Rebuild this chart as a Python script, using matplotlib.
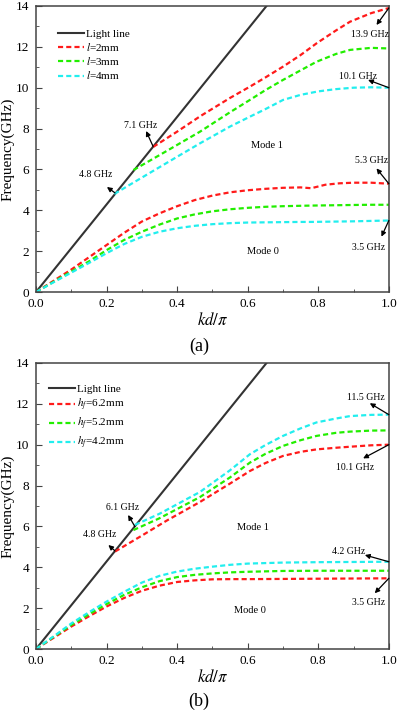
import numpy as np
import matplotlib
matplotlib.use('Agg')
import matplotlib.pyplot as plt

plt.rcParams['font.family'] = ['Liberation Serif', 'DejaVu Serif']
plt.rcParams['mathtext.fontset'] = 'stix'

# ---------------- data: panel (a) ----------------
light_kd = [0.0, 0.7]
light_f = [0.0, 15.0]

a_kd0 = [0, 0.05, 0.1, 0.15, 0.2, 0.25, 0.3, 0.35, 0.4, 0.45, 0.5, 0.55,
         0.6, 0.65, 0.7, 0.75, 0.78, 0.82, 0.86, 0.9, 0.95, 1.0]
a_red0 = [0, 0.55, 1.1, 1.7, 2.3, 2.9, 3.45, 3.85, 4.2, 4.5, 4.72, 4.88,
          4.98, 5.05, 5.1, 5.12, 5.08, 5.25, 5.32, 5.35, 5.35, 5.3]
a_green0 = [0, 0.5, 1.0, 1.5, 2.05, 2.55, 2.95, 3.3, 3.6, 3.8, 3.95, 4.05,
            4.12, 4.17, 4.2, 4.22, 4.23, 4.24, 4.25, 4.26, 4.27, 4.27]
a_cyan0 = [0, 0.48, 0.95, 1.42, 1.9, 2.35, 2.7, 2.95, 3.12, 3.24, 3.32, 3.37,
           3.4, 3.41, 3.42, 3.43, 3.43, 3.44, 3.45, 3.46, 3.48, 3.5]

a_red1_kd = [0.332, 0.4, 0.465, 0.55, 0.606, 0.65, 0.70, 0.75, 0.795, 0.85, 0.89, 0.95, 1.0]
a_red1 = [7.1, 7.85, 8.6, 9.5, 10.05, 10.5, 11.03, 11.6, 12.17, 12.8, 13.23, 13.65, 13.9]
a_green1_kd = [0.276, 0.35, 0.465, 0.55, 0.606, 0.65, 0.70, 0.75, 0.795, 0.85, 0.89, 0.95, 1.0]
a_green1 = [5.97, 6.7, 7.85, 8.8, 9.4, 9.88, 10.38, 10.85, 11.27, 11.65, 11.85, 11.95, 11.92]
a_cyan1_kd = [0.222, 0.3, 0.4, 0.465, 0.55, 0.606, 0.65, 0.70, 0.75, 0.8, 0.85, 0.9, 0.95, 1.0]
a_cyan1 = [4.8, 5.6, 6.62, 7.28, 8.1, 8.58, 8.95, 9.4, 9.65, 9.82, 9.93, 10.0, 10.02, 10.0]

a_labels = ['$l$=2mm', '$l$=3mm', '$l$=4mm']

# ---------------- data: panel (b) ----------------
b_kd0 = [0, 0.05, 0.1, 0.15, 0.2, 0.25, 0.3, 0.35, 0.4, 0.45, 0.5, 0.55,
         0.6, 0.7, 0.8, 0.9, 1.0]
b_red0 = [0, 0.55, 1.1, 1.6, 2.08, 2.5, 2.85, 3.1, 3.28, 3.36, 3.41, 3.42,
          3.42, 3.43, 3.44, 3.45, 3.46]
b_green0 = [0, 0.6, 1.18, 1.7, 2.2, 2.65, 3.02, 3.32, 3.52, 3.63, 3.7, 3.75,
            3.78, 3.82, 3.83, 3.83, 3.83]
b_cyan0 = [0, 0.62, 1.25, 1.8, 2.32, 2.8, 3.25, 3.58, 3.79, 3.93, 4.03, 4.12,
           4.18, 4.23, 4.25, 4.26, 4.27]

b_red1_kd = [0.224, 0.3, 0.37, 0.465, 0.55, 0.606, 0.65, 0.70, 0.75, 0.795, 0.85, 0.89, 0.95, 1.0]
b_red1 = [4.77, 5.55, 6.28, 7.2, 8.1, 8.71, 9.1, 9.45, 9.65, 9.77, 9.85, 9.9, 9.97, 10.0]
b_green1_kd = [0.276, 0.35, 0.465, 0.55, 0.606, 0.65, 0.70, 0.75, 0.795, 0.85, 0.89, 0.95, 1.0]
b_green1 = [5.82, 6.4, 7.44, 8.4, 9.12, 9.55, 9.94, 10.22, 10.43, 10.58, 10.64, 10.69, 10.7]
b_cyan1_kd = [0.28, 0.35, 0.465, 0.55, 0.606, 0.65, 0.70, 0.75, 0.795, 0.85, 0.89, 0.95, 1.0]
b_cyan1 = [6.07, 6.62, 7.69, 8.75, 9.53, 9.98, 10.43, 10.8, 11.09, 11.28, 11.4, 11.46, 11.47]

b_labels = ['$h_f$=6.2mm', '$h_f$=5.2mm', '$h_f$=4.2mm']

# annotations: (text, text_pos, arrow_tail, arrow_head)
a_notes = [
    ('4.8 GHz', (0.17, 5.73), (0.224, 4.85), (0.201, 5.14)),
    ('7.1 GHz', (0.297, 8.17), (0.332, 7.12), (0.312, 7.88)),
    ('13.9 GHz', (0.946, 12.58), (1.0, 13.9), (0.965, 13.07)),
    ('10.1 GHz', (0.912, 10.57), (1.0, 10.0), (0.941, 10.38)),
    ('5.3 GHz', (0.952, 6.46), (1.0, 5.3), (0.965, 6.05)),
    ('3.5 GHz', (0.943, 2.2), (1.0, 3.5), (0.979, 2.71)),
]
b_notes = [
    ('4.8 GHz', (0.181, 5.58), (0.224, 4.8), (0.205, 5.09)),
    ('6.1 GHz', (0.244, 6.95), (0.28, 6.0), (0.261, 6.56)),
    ('11.5 GHz', (0.935, 12.33), (1.0, 11.47), (0.946, 12.03)),
    ('10.1 GHz', (0.904, 8.86), (1.0, 10.0), (0.927, 9.33)),
    ('4.2 GHz', (0.887, 4.75), (1.0, 4.27), (0.932, 4.6)),
    ('3.5 GHz', (0.943, 2.3), (1.0, 3.46), (0.96, 2.73)),
]

colors = ['#ff1a1a', '#22ee00', '#22eeee']
dash = (2.3, 1.4)


def draw_panel(ax, kd0, m0, m1, labels, notes, modes, leg_anchor, leg_space):
    ax.plot(light_kd, light_f, color='#333333', lw=1.5, label='Light line')
    for i in range(3):
        ax.plot(m1[i][0], m1[i][1], color=colors[i], lw=1.6, dashes=dash, label=labels[i])
        ax.plot(kd0, m0[i], color=colors[i], lw=1.6, dashes=dash)
    ax.set_xlim(0, 1)
    ax.set_ylim(0, 14)
    ax.set_xticks(np.arange(0, 1.01, 0.2))
    ax.set_xticks(np.arange(0.1, 1.0, 0.2), minor=True)
    ax.set_yticks(np.arange(0, 15, 2))
    ax.set_yticks(np.arange(1, 14, 2), minor=True)
    ax.set_xticklabels(['0.0', '0.2', '0.4', '0.6', '0.8', '1.0'])
    ax.tick_params(which='both', direction='in', top=False, right=False,
                   labelsize=9.5, color='#444444')
    ax.tick_params(axis='x', pad=4)
    ax.tick_params(axis='y', pad=5)
    ax.tick_params(which='major', length=4)
    ax.tick_params(which='minor', length=2.5)
    for s in ax.spines.values():
        s.set_color('#444444')
        s.set_linewidth(1.1)
    ax.set_xlabel(r'$kd/\pi$', fontsize=12, labelpad=2)
    ax.set_ylabel('Frequency(GHz)', fontsize=11, labelpad=1)
    for txt, tpos, tail, head in notes:
        ax.annotate('', xy=head, xytext=tail,
                    arrowprops=dict(arrowstyle='-|>', color='black', lw=0.9,
                                    mutation_scale=7, shrinkA=0, shrinkB=0))
        ax.text(tpos[0], tpos[1], txt, fontsize=7, ha='center', va='center')
    ax.text(modes[0][0], modes[0][1], 'Mode 1', fontsize=7.5, ha='center', va='center')
    ax.text(modes[1][0], modes[1][1], 'Mode 0', fontsize=7.5, ha='center', va='center')
    ax.legend(loc='upper left', bbox_to_anchor=leg_anchor, frameon=False,
              fontsize=8, handlelength=2.3, handletextpad=0.2, labelspacing=leg_space,
              borderaxespad=0)


fig = plt.figure(figsize=(3.98, 7.11), dpi=100)
ax1 = fig.add_axes([0.0905, 0.5893, 0.8865, 0.4023])
ax2 = fig.add_axes([0.0905, 0.0872, 0.8865, 0.4023])

draw_panel(ax1, a_kd0, [a_red0, a_green0, a_cyan0],
           [(a_red1_kd, a_red1), (a_green1_kd, a_green1), (a_cyan1_kd, a_cyan1)],
           a_labels, a_notes, [(0.654, 7.15), (0.644, 2.0)], (0.05, 0.935), 0.2)
draw_panel(ax2, b_kd0, [b_red0, b_green0, b_cyan0],
           [(b_red1_kd, b_red1), (b_green1_kd, b_green1), (b_cyan1_kd, b_cyan1)],
           b_labels, b_notes, [(0.615, 5.97), (0.606, 1.86)], (0.025, 0.94), 0.25)

fig.text(0.5, 1 - 346 / 711, '(a)', ha='center', va='center', fontsize=13)
fig.text(0.5, 1 - 701 / 711, '(b)', ha='center', va='center', fontsize=13)

fig.savefig('out.png', dpi=100)
